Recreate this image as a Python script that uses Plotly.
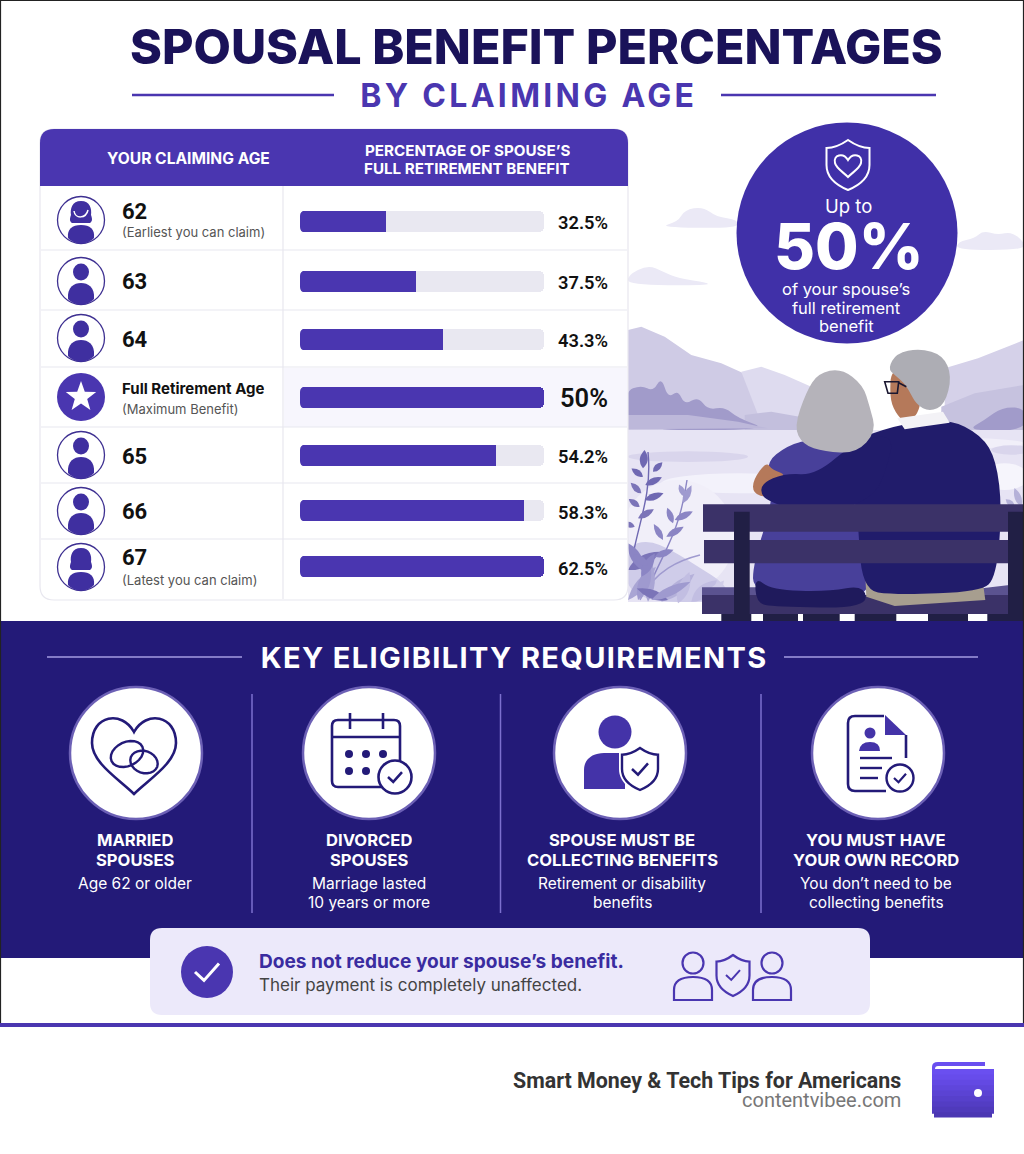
import numpy as np
import plotly.graph_objects as go

W, H = 1024, 1154

# table values
AGES = ["62", "63", "64", "Full Retirement Age", "65", "66", "67"]
AGE_NOTES = ["(Earliest you can claim)", "", "", "(Maximum Benefit)", "", "", "(Latest you can claim)"]
PCT_LABELS = ["32.5%", "37.5%", "43.3%", "50%", "54.2%", "58.3%", "62.5%"]
# the drawn bars are not to scale with their labels, these are read off the fill length
BAR_FILL = [35.2, 47.7, 58.7, 100, 80.3, 91.8, 100]
TRACK = [100, 100, 100, 100, 100, 100, 100]

REQ_TITLES = [["MARRIED", "SPOUSES"], ["DIVORCED", "SPOUSES"],
              ["SPOUSE MUST BE", "COLLECTING BENEFITS"], ["YOU MUST HAVE", "YOUR OWN RECORD"]]
REQ_NOTES = [["Age 62 or older"], ["Marriage lasted", "10 years or more"],
             ["Retirement or disability", "benefits"], ["You don\u2019t need to be", "collecting benefits"]]

PURPLE = "#4a36b0"
NAVY = "#231a78"
INK = "#1a1259"
FONT = "Inter"
NARROW = "Roboto"

shapes = []
notes = []


def add(**kw):
    kw.setdefault("xref", "x")
    kw.setdefault("yref", "y")
    kw.setdefault("layer", "below")
    kw.setdefault("line", dict(width=0))
    shapes.append(kw)


def rect(x0, y0, x1, y1, fill):
    add(type="rect", x0=x0, y0=y0, x1=x1, y1=y1, fillcolor=fill)


def line(x0, y0, x1, y1, color, w=1):
    add(type="line", x0=x0, y0=y0, x1=x1, y1=y1, line=dict(color=color, width=w))


def circle(cx, cy, r, fill="rgba(0,0,0,0)", color=None, w=0, ry=None):
    ry = r if ry is None else ry
    add(type="circle", x0=cx - r, y0=cy - ry, x1=cx + r, y1=cy + ry, fillcolor=fill,
        line=dict(color=color, width=w) if color else dict(width=0))


def path(d, fill="rgba(0,0,0,0)", color=None, w=0):
    add(type="path", path=d, fillcolor=fill,
        line=dict(color=color, width=w) if color else dict(width=0))


def rrect_d(x0, y0, x1, y1, r, r2=None):
    r2 = r if r2 is None else r2
    return (f"M{x0 + r},{y0} L{x1 - r},{y0} Q{x1},{y0} {x1},{y0 + r} L{x1},{y1 - r2} Q{x1},{y1} {x1 - r2},{y1} "
            f"L{x0 + r2},{y1} Q{x0},{y1} {x0},{y1 - r2} L{x0},{y0 + r} Q{x0},{y0} {x0 + r},{y0} Z")


def z(p):
    return [(628 + a / 3, 110 + b / 3) for a, b in p]


def poly(pts, fill):
    path("M" + " L".join(f"{a:.1f},{b:.1f}" for a, b in z(pts)) + " Z", fill)


def blob(pts, fill):
    p = z(pts)
    mids = [((p[i][0] + p[(i + 1) % len(p)][0]) / 2, (p[i][1] + p[(i + 1) % len(p)][1]) / 2) for i in range(len(p))]
    d = f"M{mids[-1][0]:.1f},{mids[-1][1]:.1f}"
    for i in range(len(p)):
        d += f" Q{p[i][0]:.1f},{p[i][1]:.1f} {mids[i][0]:.1f},{mids[i][1]:.1f}"
    path(d + " Z", fill)


def leaf(x, y, ang, ln, wd, fill):
    # x, y in crop coordinates, angle in degrees from the +x direction (up is negative)
    a = np.radians(ang)
    ux, uy = np.cos(a), np.sin(a)
    px, py = -uy, ux
    wd = wd * 1.7
    (bx, by), (tx, ty), (c1x, c1y), (c2x, c2y) = z([
        (x, y), (x + ux * ln, y + uy * ln),
        (x + ux * ln * .45 + px * wd, y + uy * ln * .45 + py * wd),
        (x + ux * ln * .45 - px * wd, y + uy * ln * .45 - py * wd)])
    path(f"M{bx:.1f},{by:.1f} Q{c1x:.1f},{c1y:.1f} {tx:.1f},{ty:.1f} Q{c2x:.1f},{c2y:.1f} {bx:.1f},{by:.1f} Z", fill)


def shield_d(cx, top, w, h):
    hw = w / 2
    return (f"M{cx},{top} C{cx + hw * .4},{top + h * .12} {cx + hw * .7},{top + h * .16} {cx + hw},{top + h * .16} "
            f"L{cx + hw},{top + h * .5} C{cx + hw},{top + h * .76} {cx + hw * .45},{top + h * .92} {cx},{top + h} "
            f"C{cx - hw * .45},{top + h * .92} {cx - hw},{top + h * .76} {cx - hw},{top + h * .5} "
            f"L{cx - hw},{top + h * .16} C{cx - hw * .7},{top + h * .16} {cx - hw * .4},{top + h * .12} {cx},{top} Z")


def ring_d(cx, cy, rx, ry, rot):
    t = np.radians(np.arange(0, 360, 15))
    r = np.radians(rot)
    xs = cx + rx * np.cos(t) * np.cos(r) - ry * np.sin(t) * np.sin(r)
    ys = cy + rx * np.cos(t) * np.sin(r) + ry * np.sin(t) * np.cos(r)
    return "M" + " L".join(f"{a:.1f},{b:.1f}" for a, b in zip(xs, ys)) + " Z"


def check(x, y, s, color, w=2.5):
    path(f"M{x - s},{y} L{x - s * .25},{y + s * .7} L{x + s},{y - s * .7}", color=color, w=w)


def text(x, y, s, size, color="#111111", weight=400, anchor="center", font=FONT, h=None):
    notes.append(dict(x=x, y=y, xref="x", yref="y", text=s, showarrow=False, xanchor=anchor, yanchor="middle",
                      borderpad=0, borderwidth=0, height=h,
                      font=dict(family=font, size=size, color=color, weight=weight)))


# ---- page
rect(0, 0, W, H, "#ffffff")

# ---- illustration
for c in [[(90, 352), (150, 335), (170, 300), (225, 290), (265, 320), (330, 330), (330, 355)],
          [(985, 420), (990, 395), (1040, 385), (1065, 362), (1110, 375), (1150, 365), (1188, 395), (1188, 420)],
          [(0, 525), (0, 495), (60, 465), (105, 485), (150, 505), (240, 518), (240, 526)]]:
    blob(c, "#ebe9f6")
poly([(0, 660), (40, 650), (110, 680), (190, 735), (280, 760), (370, 800), (530, 855), (560, 960), (0, 960)], "#cfcbe5")
poly([(340, 785), (400, 770), (470, 795), (560, 835), (560, 960), (400, 940)], "#dedbef")
poly([(950, 775), (1050, 745), (1188, 690), (1188, 960), (950, 960)], "#d5d1e9")
poly([(940, 890), (1040, 850), (1188, 825), (1188, 960), (940, 960)], "#c6c2df")
poly([(350, 915), (430, 905), (540, 925), (560, 960), (350, 960)], "#c3bfdd")
blob([(-10, 845), (40, 825), (75, 845), (100, 800), (120, 865), (150, 840), (170, 885), (210, 860), (240, 900), (290, 890),
      (330, 925), (430, 960), (-10, 962)], "#a19bca")
poly([(0, 915), (180, 915), (330, 935), (420, 955), (0, 958)], "#bdb8da")
blob([(1015, 962), (1070, 930), (1125, 890), (1195, 895), (1195, 962)], "#a19bca")
rect(628, 430, W, 602, "#e7e4f4")
for cx, cy, rx, ry, col in [(180, 1040, 180, 16, "#d9d5ec"), (900, 1000, 290, 18, "#f1eff9"),
                            (330, 1120, 230, 30, "#f3f2fb"), (150, 1280, 170, 170, "#f1eff9"),
                            (1130, 1100, 70, 40, "#f6f5fc"), (1150, 1020, 60, 14, "#d9d5ec")]:
    (qx, qy), = z([(cx, cy)])
    circle(qx, qy, rx / 3, col, ry=ry / 3)
rect(628, 602, 702, 621, "#ffffff")

# plants at the lower left of the panel
blob([(-5, 1476), (-5, 1310), (60, 1290), (130, 1320), (210, 1370), (290, 1420), (310, 1476)], "#cfcce9")
for d, col in [("M634,550 C640,520 652,490 648,452", "#6f68b2"), ("M652,580 C665,550 680,530 687,480", "#8b85c4"),
               ("M640,600 C655,570 680,560 700,555", "#9f9acf")]:
    path(d, color=col, w=1.4)
LEAVES = [(0, 1470, -50, 130, 18, "#a9a5d4"), (100, 1475, -40, 130, 20, "#b5b1da"), (60, 1475, -85, 120, 18, "#a9a5d4"),
          (150, 1480, -70, 100, 20, "#c2bee2"), (190, 1475, -40, 100, 22, "#c2bee2"), (230, 1480, -50, 90, 18, "#d1cee9"),
          (30, 1470, -70, 110, 20, "#9f9acf"), (120, 1470, 200, 100, 16, "#7b74b8"), (70, 1470, -25, 130, 16, "#9f9acf"),
          (0, 1380, -30, 110, 20, "#7b74b8"), (0, 1300, 60, 100, 18, "#8b85c4"), (40, 1400, -60, 80, 16, "#8b85c4"),
          (45, 1075, -85, 55, 14, "#6f68b2"), (75, 1085, -45, 40, 11, "#6f68b2"), (45, 1100, 215, 42, 11, "#6f68b2"),
          (52, 1125, -25, 55, 12, "#6f68b2"), (40, 1150, 225, 45, 11, "#7b74b8"), (50, 1170, -20, 60, 12, "#6f68b2"),
          (35, 1190, 215, 40, 11, "#7b74b8"), (30, 1225, -30, 55, 12, "#7b74b8"), (20, 1250, 200, 35, 10, "#7b74b8"),
          (165, 1180, -65, 60, 12, "#9f9acf"), (170, 1160, 245, 40, 10, "#9f9acf"), (140, 1230, -25, 60, 12, "#8b85c4"),
          (135, 1240, 250, 50, 11, "#8b85c4"), (115, 1280, -30, 60, 12, "#8b85c4"), (105, 1290, 240, 55, 11, "#8b85c4"),
          (80, 1340, -20, 60, 12, "#8b85c4"), (60, 1365, 215, 55, 14, "#8b85c4"),
          (1180, 1190, -110, 60, 12, "#b5b1d8"), (1160, 1190, -140, 35, 10, "#b5b1d8")]
for a in LEAVES:
    leaf(*a)

# bench seat goes behind the couple
poly([(222, 1432), (400, 1432), (720, 1475), (1188, 1420), (1188, 1455), (222, 1455)], "#5b5390")
poly([(222, 1455), (1188, 1455), (1188, 1512), (222, 1512)], "#3b3268")

# couple
blob([(375, 1450), (375, 1360), (440, 1160), (410, 1060), (480, 1005), (560, 985), (680, 1005), (730, 1100), (750, 1300),
      (725, 1455), (600, 1490)], "#48409a")
blob([(380, 1400), (430, 1440), (600, 1445), (710, 1425), (716, 1495), (440, 1490), (385, 1480)], "#1f1a5c")
poly([(712, 1395), (790, 1445), (1065, 1420), (1072, 1470), (800, 1488), (715, 1460)], "#a79e8f")
blob([(700, 1440), (690, 1200), (640, 1005), (800, 945), (960, 925), (1060, 975), (1105, 1050), (1122, 1200), (1105, 1400),
      (1060, 1445), (800, 1455)], "#211c6b")
blob([(375, 1110), (415, 1055), (432, 1080), (480, 1095), (420, 1165), (375, 1150)], "#b5795a")
blob([(400, 1120), (470, 1090), (565, 1095), (680, 995), (800, 970), (775, 1080), (735, 1165), (570, 1225), (450, 1185),
      (400, 1160)], "#211c6b")
blob([(790, 770), (880, 780), (880, 900), (835, 945), (800, 905), (785, 860)], "#b5795a")
poly([(808, 925), (945, 905), (965, 938), (880, 950), (830, 958)], "#f3f2f6")
blob([(780, 775), (805, 730), (875, 715), (945, 735), (972, 800), (950, 885), (905, 905), (865, 885), (835, 825), (800, 795)], "#adadb4")
blob([(498, 950), (535, 845), (570, 790), (640, 775), (705, 825), (725, 890), (745, 965), (685, 1030), (590, 1025), (525, 1005)], "#b5b3ba")
g = z([(770, 815), (812, 815), (808, 850), (780, 850)])
path("M" + " L".join(f"{a:.1f},{b:.1f}" for a, b in g) + " Z", "rgba(0,0,0,0)", "#1a1730", 1.6)
line(*z([(812, 818), (835, 830)])[0], *z([(812, 818), (835, 830)])[1], "#1a1730", 1.6)

# rest of the bench, in front of the couple
poly([(225, 1183), (1188, 1183), (1188, 1265), (225, 1265)], "#3b3268")
poly([(228, 1290), (1188, 1290), (1188, 1360), (228, 1360)], "#3b3268")
poly([(318, 1205), (365, 1205), (365, 1535), (318, 1535)], "#211f45")
poly([(1140, 1205), (1188, 1205), (1188, 1535), (1140, 1535)], "#211f45")
for a, b in [(280, 370), (405, 510), (525, 635), (680, 805), (900, 1020), (1078, 1140)]:
    poly([(a, 1512), (b, 1512), (b, 1535), (a, 1535)], "#211f45")

# ---- badge
circle(847, 233, 110.5, "#4030a8")
path(shield_d(848, 140, 43, 50), color="#ffffff", w=2)
path("M848,160 C843,152 833,155 835,163 C836,168 843,172 848,177 C853,172 860,168 861,163 C863,155 853,152 848,160 Z",
     color="#ffffff", w=2)
text(848, 206, "Up to", 18.5, "#ffffff", 400, h=22)
text(849, 246, "50%", 63, "#ffffff", 800, h=58)
text(846, 289, "of your spouse\u2019s", 16.5, "#ffffff", 400, h=18)
text(846, 308, "full retirement", 16.5, "#ffffff", 400, h=18)
text(846, 326, "benefit", 16.5, "#ffffff", 400, h=18)

# ---- title
text(536, 46, "SPOUSAL BENEFIT PERCENTAGES", 48.4, INK, 800)
text(528.5, 95, "BY CLAIMING AGE", 32, PURPLE, 700)
line(132, 95, 334, 95, PURPLE, 2.5)
line(721, 95, 936, 95, PURPLE, 2.5)

# ---- table
path(rrect_d(40, 129, 628, 600, 14), "#ffffff", "#e8e7ef", 1.2)
path("M54,129 L614,129 Q628,129 628,143 L628,186 L40,186 L40,143 Q40,129 54,129 Z", PURPLE)
rect(284, 368, 627, 427, "#f7f6fd")
for y in [250, 310, 367, 427, 483, 539]:
    line(41, y, 627, y, "#e8e7ef", 1.2)
line(283, 186, 283, 599, "#e8e7ef", 1.2)
text(188, 158, "YOUR CLAIMING AGE", 15.6, "#ffffff", 700, h=18)
text(467, 150, "PERCENTAGE OF SPOUSE\u2019S", 15.2, "#ffffff", 700, h=18)
text(467, 168, "FULL RETIREMENT BENEFIT", 15.2, "#ffffff", 700, h=18)

AVATAR_Y = [220, 281, 338, 397, 455, 511, 567]
AGE_Y = [211, 281, 339, 388, 456, 511, 557]
NOTE_Y = [231, 0, 0, 408, 0, 0, 579]
PCT_Y = [222, 282, 340, 398, 456, 512, 568]
BAR_TOP = [211, 271, 329, 387, 445, 500, 556]
BAR_H = 21

for i, age in enumerate(AGES):
    cy = AVATAR_Y[i]
    if age.startswith("Full"):
        circle(81, cy, 24, PURPLE)
        t = np.radians(np.arange(-90, 270, 36))
        rad = np.where(np.arange(10) % 2 == 0, 16, 6.5)
        star = " L".join(f"{81 + r * np.cos(a):.1f},{cy + r * np.sin(a):.1f}" for a, r in zip(t, rad))
        path(f"M{star} Z", "#ffffff")
        text(122, AGE_Y[i], age, 15, "#111111", 700, "left", h=20)
    else:
        circle(81, cy, 23.5, "#ffffff", "#3d2f91", 1.3)
        if age in ("62", "67"):
            path(f"M81,{cy - 19} C90,{cy - 19} 92,{cy - 11} 91,{cy - 5} C92,{cy - 2} 93,{cy + 1} 90,{cy + 3} "
                 f"L72,{cy + 3} C69,{cy + 1} 70,{cy - 2} 71,{cy - 5} C70,{cy - 11} 72,{cy - 19} 81,{cy - 19} Z", "#3f2fa0")
            if age == "62":
                path(f"M74,{cy - 9} C75,{cy - 1} 86,{cy - 1} 88,{cy - 10}", color="#ffffff", w=1.5)
            path(f"M68,{cy + 18} C67,{cy + 9} 72,{cy + 5} 81,{cy + 5} C90,{cy + 5} 95,{cy + 9} 94,{cy + 18} "
                 f"C90,{cy + 22} 86,{cy + 23.5} 81,{cy + 23.5} C76,{cy + 23.5} 72,{cy + 22} 68,{cy + 18} Z", "#3f2fa0")
        else:
            circle(81, cy - 9, 8, "#3f2fa0", ry=8.5)
            path(f"M68,{cy + 18} C67,{cy + 6} 74,{cy + 2} 81,{cy + 2} C88,{cy + 2} 95,{cy + 6} 94,{cy + 18} "
                 f"C90,{cy + 22} 86,{cy + 23.5} 81,{cy + 23.5} C76,{cy + 23.5} 72,{cy + 22} 68,{cy + 18} Z", "#3f2fa0")
        text(122, AGE_Y[i], age, 22, "#111111", 700, "left", NARROW, h=24)
    if AGE_NOTES[i]:
        text(122, NOTE_Y[i], AGE_NOTES[i], 13, "#555555", 400, "left", h=17)
    text(608, PCT_Y[i], PCT_LABELS[i], 25.5 if PCT_LABELS[i] == "50%" else 18.3, "#111111", 600, "right", NARROW)
    # plotly only rounds the far end of a bar, the corners at the base are masked here
    bg = "#f7f6fd" if age.startswith("Full") else "#ffffff"
    y0, y1 = BAR_TOP[i], BAR_TOP[i] + BAR_H
    path(f"M299.5,{y0 - .5} L305,{y0 - .5} Q300,{y0} 300,{y0 + 5} L299.5,{y0 + 5} Z", bg)
    path(f"M299.5,{y1 + .5} L305,{y1 + .5} Q300,{y1} 300,{y1 - 5} L299.5,{y1 - 5} Z", bg)
    shapes[-1]["layer"] = "above"
    shapes[-2]["layer"] = "above"

# ---- requirements band
rect(1, 621, 1023, 958, NAVY)
text(514, 657, "KEY ELIGIBILITY REQUIREMENTS", 29, "#ffffff", 700)
line(47, 657, 242, 657, "#a49ce2", 1.5)
line(784, 657, 978, 657, "#a49ce2", 1.5)
for x in [252, 500.5, 761]:
    line(x, 694, x, 913, "#7c70cf", 1.5)

REQ_X = [135, 369, 622, 876]
for cx, ccx, title, sub in zip(REQ_X, [136, 369, 620, 878], REQ_TITLES, REQ_NOTES):
    circle(ccx, 753, 66, "#ffffff", "#6c60b5", 2.5)
    text(cx, 840, title[0], 16.6, "#ffffff", 700, h=20)
    text(cx, 860, title[1], 16.6, "#ffffff", 700, h=20)
    text(cx, 883, sub[0], 15.5, "#ffffff", 400, h=19)
    if len(sub) > 1:
        text(cx, 902, sub[1], 15.5, "#ffffff", 400, h=19)

# heart and rings
path("M134,732 C122,710 92,715 92,743 C92,763 120,780 134,794 C148,780 176,763 176,743 C176,715 146,710 134,732 Z",
     color=NAVY, w=2.6)
path(ring_d(127, 754, 17, 12, -25), color=NAVY, w=2.4)
path(ring_d(144, 762, 14, 11, 20), color=NAVY, w=2.4)

# calendar
path(rrect_d(332, 720, 400, 787, 6), color=NAVY, w=2.6)
line(332, 737, 400, 737, NAVY, 2.6)
line(350, 713, 350, 729, NAVY, 2.6)
line(383, 713, 383, 729, NAVY, 2.6)
for a, b in [(349, 754), (366, 754), (383, 754), (349, 771), (366, 771)]:
    circle(a, b, 4, NAVY)
circle(395, 777, 16.5, "#ffffff", NAVY, 2.6)
check(395, 777, 7, NAVY)

# person with shield
circle(615, 732, 16.5, "#4433a8")
path("M584,789 L584,770 C584,758 594,753 604,753 L625,753 L625,789 Z", "#4433a8")
path(shield_d(640, 744, 42, 50), "#ffffff")
path(shield_d(640, 748, 36, 42), "#ffffff", NAVY, 2.4)
check(640, 769, 8, NAVY)

# document
path("M884,716 L855,716 Q848,716 848,723 L848,784 Q848,791 855,791 L886,791", color=NAVY, w=2.6)
path("M885,715 L906,735 L885,735 Z", "#4433a8")
line(906, 735, 906, 758, NAVY, 2.6)
circle(870, 733, 5.5, "#4433a8")
path("M859,751 Q860,742 870,742 Q880,742 880,751 Z", "#4433a8")
line(860, 758, 892, 758, NAVY, 2.4)
line(860, 768, 882, 768, NAVY, 2.4)
line(860, 778, 878, 778, NAVY, 2.4)
circle(900, 778, 13.5, "#ffffff", NAVY, 2.4)
check(900, 778, 6, NAVY, 2.2)

# ---- callout
path(rrect_d(150, 928, 870, 1015, 12), "#ece9fa")
circle(207, 972, 26, PURPLE)
check(207, 972, 12, "#ffffff", 3)
text(259, 961, "Does not reduce your spouse\u2019s benefit.", 19.1, "#3a2ca0", 700, "left", h=24)
text(259, 985, "Their payment is completely unaffected.", 17, "#444444", 400, "left", h=22)
for cx in [693, 772]:
    circle(cx, 963, 10.5, "rgba(0,0,0,0)", PURPLE, 2.2)
    path(f"M{cx - 19},1000 L{cx - 19},990 C{cx - 19},980 {cx - 10},977 {cx},977 C{cx + 10},977 {cx + 19},980 {cx + 19},990 "
         f"L{cx + 19},1000 Z", color=PURPLE, w=2.2)
path(shield_d(733, 955, 33, 41), color=PURPLE, w=2.2)
check(733, 975, 7, PURPLE, 2)

# ---- frame and footer
line(0.5, 0, 0.5, 1024, "#222222", 1.2)
line(1023.5, 0, 1023.5, 1024, "#222222", 1.2)
line(0, 0.5, W, 0.5, "#222222", 1.2)
rect(0, 1023, W, 1027, PURPLE)
text(901, 1080, "Smart Money &amp; Tech Tips for Americans", 21.4, "#333333", 700, "right", "Roboto", h=26)
text(901, 1100, "contentvibee.com", 20, "#777777", 400, "right", "Roboto", h=22)
# wallet, gradient built up from strips
WALLET = ["#6a4ff0", "#674ceb", "#6349e3", "#5f46db", "#5b43d3", "#5740cb", "#533dc3", "#4f3abb", "#4b37b3"]
for k, col in enumerate(WALLET):
    inset = 2 if k == len(WALLET) - 1 else 0
    y0 = 1069 + k * 5.4
    rect(932 + inset, y0, 994 - inset, y0 + (7 if k < len(WALLET) - 1 else 5.4), col)
path("M932,1069 L932,1067 Q932,1062 938,1062 L985,1062 L985,1066 L938,1066 Q935,1066 935,1069 Z", "#6a4ff0")
circle(978, 1093, 4, "#ffffff")

# ---- bars, one small subplot for each table row
fig = go.Figure()
fig.add_trace(go.Scatter(x=[0, W], y=[0, H], mode="markers", marker=dict(opacity=0), hoverinfo="skip", showlegend=False))
axes = {}
for i, age in enumerate(AGES):
    n = i + 2
    fig.add_trace(go.Bar(x=[TRACK[i]], y=[age], orientation="h", xaxis="x2", yaxis=f"y{n}",
                         marker=dict(color="#e9e8f1", line=dict(width=0), cornerradius=5), showlegend=False))
    fig.add_trace(go.Bar(x=[BAR_FILL[i]], y=[age], orientation="h", xaxis="x2", yaxis=f"y{n}", name=PCT_LABELS[i],
                         marker=dict(color=PURPLE, line=dict(width=0), cornerradius=5), showlegend=False))
    axes[f"yaxis{n}"] = dict(domain=[1 - (BAR_TOP[i] + BAR_H) / H, 1 - BAR_TOP[i] / H], anchor="x2", visible=False,
                             type="category", fixedrange=True)

fig.update_layout(
    width=W, height=H, margin=dict(l=0, r=0, t=0, b=0), showlegend=False,
    paper_bgcolor="#ffffff", plot_bgcolor="rgba(0,0,0,0)",
    barmode="overlay", bargap=0,
    xaxis=dict(range=[0, W], visible=False, fixedrange=True, domain=[0, 1]),
    yaxis=dict(range=[H, 0], visible=False, fixedrange=True, domain=[0, 1]),
    xaxis2=dict(range=[0, 100], domain=[300 / W, 544 / W], anchor="y2", visible=False, fixedrange=True),
    shapes=shapes, annotations=notes, **axes)

# plotly has no letter spacing option, the two spaced headings get it here
spacing = """
document.body.style.margin = '0';
var spaced = {'BY CLAIMING AGE': '3.3px', 'KEY ELIGIBILITY REQUIREMENTS': '1.37px'};
document.querySelectorAll('.annotation-text').forEach(function (t) {
    if (spaced[t.textContent]) t.style.letterSpacing = spaced[t.textContent];
});
"""
fig.write_html("out.html", post_script=spacing, config=dict(displayModeBar=False))
